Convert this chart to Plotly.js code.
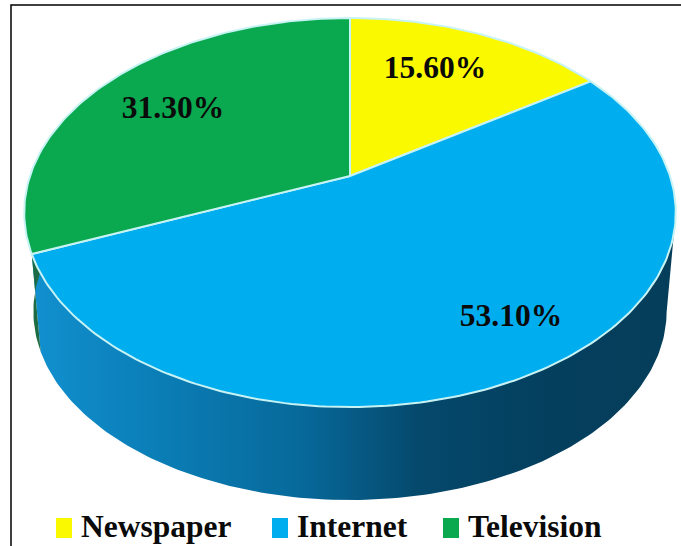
<!DOCTYPE html>
<html>
<head>
<meta charset="utf-8">
<script src="https://cdn.plot.ly/plotly-3.0.1.min.js"></script>
<style>html,body{margin:0;padding:0;background:#fff}</style>
</head>
<body>
<div id="chart" style="width:681px;height:546px"></div>
<script>
// Media share data
const categories = ['Newspaper', 'Internet', 'Television'];
const shares = [15.6, 53.1, 31.3];
const topColors = ['#fbf900', '#00aeef', '#0aa84f'];
const wallColors = ['#b5b300', '#0a6f9f', '#1c6b45'];

// Tilted disc drawn in axis units, which equal pixels here
const topDisc = {cx: 350, cy: 176, a: 320, b: 187.7, k: 0.1877};
const baseDisc = {cx: 350, cy: 276, a: 311, b: 182, k: 0.1877};
const rim = '#c8f3f4';

// Angle is clockwise from the far edge of the disc; perspective shrinks the far side
function project(d, deg) {
  const t = deg * Math.PI / 180;
  const x = Math.sin(t), y = Math.cos(t), w = 1 + d.k * y;
  return [d.cx + d.a * x / w, d.cy - d.b * y / w];
}
function arc(d, from, to) {
  const pts = [], n = Math.max(2, Math.ceil(Math.abs(to - from)));
  for (let i = 0; i <= n; i++) pts.push(project(d, from + (to - from) * i / n));
  return pts;
}

// Cumulative slice boundaries in degrees
const total = shares.reduce((s, v) => s + v, 0);
const edges = [0];
shares.forEach(v => edges.push(edges[edges.length - 1] + v / total * 360));

const traces = [];

// Side wall: near half of the top rim joined back along the base rim
const wallTurnLeft = 271, wallTurnRight = 101;
function wallTrace(from, to, extra) {
  const p = arc(topDisc, from, to).concat(arc(baseDisc, to, from));
  p.push(p[0]);
  return Object.assign({
    type: 'scatter', mode: 'lines', hoverinfo: 'skip', showlegend: false,
    x: p.map(q => q[0]), y: p.map(q => q[1]),
    fill: 'toself', line: {width: 0}
  }, extra);
}
traces.push(wallTrace(wallTurnRight, edges[2], {
  fillcolor: wallColors[1],
  fillgradient: {
    type: 'horizontal',
    colorscale: [[0, '#1190cf'], [0.18, '#0b7fb8'], [0.42, '#07699a'], [0.6, '#05496c'],
                 [0.8, '#043f5e'], [1, '#053e5a']]
  }
}));
traces.push(wallTrace(edges[2], wallTurnLeft, {fillcolor: wallColors[2]}));

// Top surface slices
categories.forEach((name, i) => {
  const p = [[topDisc.cx, topDisc.cy]].concat(arc(topDisc, edges[i], edges[i + 1]));
  p.push(p[0]);
  traces.push({
    type: 'scatter', mode: 'lines', name,
    x: p.map(q => q[0]), y: p.map(q => q[1]),
    fill: 'toself', fillcolor: topColors[i],
    line: {color: rim, width: 2}, hoverinfo: 'name', showlegend: false
  });
});

// Value labels on the slices
const labelX = [435, 511, 173];
const labelY = [70, 318, 110];
traces.push({
  type: 'scatter', mode: 'text', hoverinfo: 'skip', showlegend: false,
  x: labelX, y: labelY,
  text: shares.map(v => v.toFixed(2) + '%'),
  textposition: 'middle center',
  textfont: {family: 'Liberation Serif', size: 31.5, color: '#0a0a0a', weight: 700}
});

// Legend row
const swatchLeft = [56, 272, 443];
const shapes = [{
  type: 'rect', xref: 'x', yref: 'y', x0: 11, y0: 5, x1: 690, y1: 560,
  line: {color: '#000', width: 1.5}, fillcolor: 'rgba(0,0,0,0)', layer: 'below'
}];
const annotations = [];
categories.forEach((name, i) => {
  shapes.push({
    type: 'rect', xref: 'x', yref: 'y', x0: swatchLeft[i], x1: swatchLeft[i] + 16,
    y0: 518, y1: 538, fillcolor: topColors[i], line: {width: 0}
  });
  annotations.push({
    xref: 'x', yref: 'y', x: swatchLeft[i] + 23, y: 526, xanchor: 'left', yanchor: 'middle',
    text: name, showarrow: false,
    font: {family: 'Liberation Serif', size: 31.5, color: '#0a0a0a', weight: 700}
  });
});

Plotly.newPlot('chart', traces, {
  width: 681, height: 546,
  margin: {l: 0, r: 0, t: 0, b: 0},
  paper_bgcolor: '#fff', plot_bgcolor: '#fff',
  showlegend: false,
  xaxis: {range: [0, 681], visible: false, fixedrange: true},
  yaxis: {range: [546, 0], visible: false, fixedrange: true},
  shapes, annotations
}, {displayModeBar: false, staticPlot: true});
</script>
</body>
</html>
